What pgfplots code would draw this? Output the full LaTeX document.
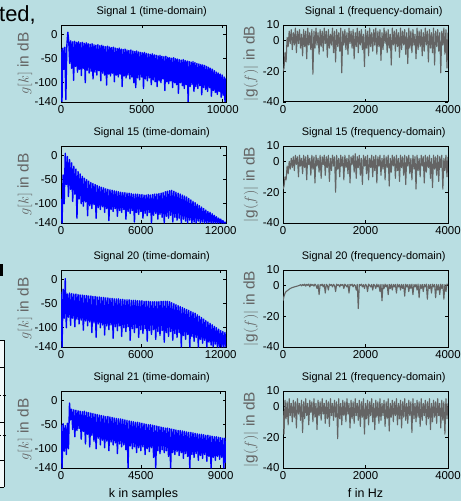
\documentclass[border=0pt]{standalone}
\usepackage{fontspec}
\setmainfont{Liberation Sans}
\usepackage{pgfplots}
\pgfplotsset{compat=1.18}
\usepackage{pgfplotstable}

\definecolor{slidebg}{RGB}{185,222,226}
\definecolor{sigblue}{RGB}{0,0,255}
\definecolor{specgray}{RGB}{100,100,100}
\definecolor{labgray}{RGB}{100,100,100}

% time-domain signals, one value per sample step
\pgfplotstableread[row sep=\\]{y\\
-30\\-140\\-28\\-72\\-26\\-135\\-24\\5\\-14\\-60\\
-13\\-70\\-15\\-95\\-14\\-66\\-16\\-78\\-15\\-72\\
-17\\-85\\-16\\-70\\-18\\-100\\-17\\-74\\-19\\-80\\
-20\\-76\\-19\\-92\\-21\\-78\\-22\\-84\\-21\\-75\\
-23\\-96\\-22\\-80\\-24\\-84\\-25\\-105\\-24\\-82\\
-26\\-86\\-27\\-80\\-26\\-98\\-28\\-84\\-29\\-88\\
-28\\-82\\-30\\-108\\-31\\-86\\-30\\-90\\-32\\-84\\
-33\\-92\\-32\\-88\\-34\\-100\\-35\\-110\\-34\\-90\\
-36\\-94\\-37\\-88\\-38\\-112\\-37\\-92\\-39\\-96\\
-40\\-90\\-41\\-104\\-40\\-94\\-42\\-98\\-43\\-108\\
-44\\-96\\-43\\-100\\-45\\-92\\-46\\-116\\-45\\-98\\
-47\\-102\\-48\\-96\\-49\\-110\\-48\\-100\\-50\\-104\\
-51\\-122\\-52\\-100\\-53\\-106\\-52\\-112\\-54\\-104\\
-55\\-140\\-56\\-108\\-57\\-104\\-56\\-118\\-58\\-108\\
-60\\-112\\-61\\-106\\-62\\-125\\-63\\-110\\-64\\-114\\
-66\\-118\\-68\\-110\\-70\\-128\\-72\\-116\\-75\\-120\\
-78\\-124\\-80\\-118\\-82\\-130\\-84\\-126\\-88\\-140\\
-90\\}\sigOneT

\pgfplotstableread[row sep=\\]{y\\
-90\\-140\\-40\\-100\\5\\-60\\-2\\-85\\-8\\-70\\
-15\\-95\\-22\\-80\\-28\\-130\\-33\\-90\\-38\\-100\\
-43\\-105\\-47\\-96\\-50\\-125\\-53\\-104\\-56\\-110\\
-58\\-102\\-60\\-130\\-62\\-108\\-64\\-112\\-66\\-106\\
-67\\-118\\-69\\-110\\-70\\-135\\-71\\-112\\-72\\-116\\
-73\\-110\\-74\\-126\\-75\\-114\\-76\\-118\\-77\\-112\\
-77\\-132\\-78\\-116\\-78\\-120\\-79\\-114\\-80\\-138\\
-80\\-118\\-80\\-122\\-81\\-116\\-81\\-130\\-82\\-120\\
-82\\-125\\-81\\-118\\-82\\-140\\-81\\-124\\-80\\-120\\
-80\\-132\\-79\\-122\\-78\\-128\\-77\\-140\\-75\\-126\\
-74\\-130\\-73\\-124\\-72\\-138\\-74\\-128\\-76\\-134\\
-78\\-130\\-80\\-140\\-82\\-132\\-84\\-136\\-86\\-140\\
-89\\-134\\-92\\-140\\-95\\-138\\-98\\-140\\-101\\-136\\
-104\\-140\\-107\\-138\\-110\\-140\\-113\\-140\\-116\\-139\\
-118\\-140\\-121\\-140\\-124\\-140\\-127\\-140\\-130\\-140\\
-132\\-140\\-135\\-140\\-138\\-140\\}\sigFifteenT

\pgfplotstableread[row sep=\\]{y\\
-25\\-140\\-20\\-80\\2\\-100\\-30\\-78\\-28\\-95\\
-29\\-80\\-30\\-98\\-30\\-82\\-31\\-92\\-32\\-84\\
-32\\-105\\-33\\-86\\-33\\-96\\-34\\-88\\-34\\-110\\
-35\\-90\\-35\\-120\\-36\\-92\\-36\\-100\\-37\\-94\\
-37\\-115\\-38\\-96\\-38\\-104\\-39\\-94\\-39\\-122\\
-40\\-98\\-40\\-106\\-40\\-96\\-41\\-118\\-41\\-100\\
-42\\-108\\-42\\-98\\-42\\-126\\-43\\-102\\-43\\-110\\
-43\\-100\\-44\\-120\\-44\\-104\\-44\\-112\\-45\\-102\\
-45\\-128\\-45\\-106\\-46\\-114\\-46\\-104\\-46\\-124\\
-46\\-108\\-46\\-116\\-45\\-106\\-45\\-130\\-45\\-110\\
-45\\-118\\-46\\-108\\-48\\-126\\-50\\-112\\-52\\-120\\
-54\\-110\\-56\\-140\\-58\\-116\\-60\\-124\\-62\\-114\\
-64\\-140\\-66\\-118\\-68\\-128\\-70\\-120\\-73\\-140\\
-76\\-124\\-79\\-132\\-82\\-126\\-85\\-140\\-88\\-130\\
-91\\-136\\-94\\-140\\-97\\-134\\-100\\-140\\-103\\-140\\
-106\\-140\\-108\\-140\\-110\\-140\\}\sigTwentyT

\pgfplotstableread[row sep=\\]{y\\
-50\\-140\\-48\\-105\\-52\\-112\\-47\\-100\\-5\\-40\\
-18\\-60\\-19\\-75\\-20\\-62\\-21\\-58\\-22\\-80\\
-23\\-64\\-22\\-90\\-24\\-70\\-25\\-96\\-26\\-72\\
-27\\-84\\-28\\-100\\-29\\-78\\-30\\-92\\-31\\-82\\
-32\\-98\\-33\\-84\\-33\\-104\\-34\\-86\\-35\\-92\\
-36\\-88\\-37\\-110\\-38\\-90\\-38\\-96\\-39\\-92\\
-40\\-102\\-41\\-140\\-42\\-94\\-43\\-100\\-44\\-96\\
-45\\-108\\-45\\-98\\-46\\-104\\-47\\-96\\-48\\-112\\
-49\\-100\\-50\\-106\\-50\\-98\\-51\\-118\\-52\\-140\\
-53\\-104\\-54\\-110\\-55\\-102\\-56\\-108\\-57\\-104\\
-57\\-116\\-58\\-140\\-59\\-108\\-60\\-112\\-61\\-106\\
-62\\-114\\-62\\-108\\-63\\-120\\-64\\-110\\-65\\-116\\
-66\\-140\\-66\\-112\\-67\\-118\\-68\\-110\\-69\\-124\\
-70\\-114\\-70\\-120\\-71\\-112\\-72\\-126\\-72\\-116\\
-73\\-140\\-74\\-118\\-75\\-124\\-75\\-116\\-76\\-122\\
-77\\-118\\-78\\-140\\-78\\-130\\}\sigTwentyOneT

% frequency-domain signals, step 25 Hz
\pgfplotstableread[row sep=\\]{y\\
-20\\-18\\-8\\-14\\2\\-4\\6\\-2\\7\\-6\\
5\\-3\\8\\-8\\6\\-2\\7\\-5\\4\\-10\\
7\\-4\\6\\-12\\8\\-3\\5\\-6\\7\\-22\\
6\\-5\\8\\-3\\5\\-9\\7\\-4\\6\\-7\\
8\\-2\\6\\-11\\7\\-5\\4\\-3\\8\\-8\\
6\\-14\\7\\-4\\5\\-7\\8\\-21\\6\\-3\\
7\\-6\\5\\-9\\8\\-2\\6\\-5\\7\\-12\\
5\\-4\\8\\-8\\6\\-3\\7\\-6\\4\\-17\\
7\\-5\\6\\-10\\8\\-4\\5\\-7\\7\\-3\\
8\\-9\\6\\-4\\7\\-13\\5\\-6\\8\\-2\\
6\\-8\\7\\-5\\4\\-16\\8\\-3\\6\\-7\\
7\\-4\\5\\-11\\8\\-6\\6\\-3\\7\\-9\\
5\\-15\\8\\-5\\6\\-8\\7\\-3\\4\\-12\\
8\\-6\\6\\-4\\7\\-10\\5\\-7\\8\\-3\\
6\\-14\\7\\-5\\5\\-8\\8\\-16\\6\\-4\\
7\\-7\\5\\-21\\6\\-3\\8\\-9\\7\\-18\\
5\\}\sigOneF

\pgfplotstableread[row sep=\\]{y\\
-18\\-16\\-10\\-12\\-3\\-8\\0\\-5\\2\\-4\\
3\\-6\\4\\-2\\3\\-10\\4\\-3\\2\\-8\\
4\\-4\\3\\-12\\4\\-2\\2\\-9\\4\\-5\\
3\\-14\\4\\-3\\2\\-7\\4\\-11\\3\\-2\\
4\\-9\\3\\-4\\4\\-13\\2\\-6\\4\\-3\\
3\\-20\\4\\-5\\2\\-10\\4\\-3\\3\\-12\\
4\\-4\\2\\-8\\4\\-14\\3\\-2\\4\\-7\\
5\\-11\\3\\-4\\4\\-9\\2\\-15\\4\\-3\\
3\\-8\\4\\-12\\2\\-4\\4\\-10\\3\\-6\\
4\\-14\\3\\-3\\4\\-9\\2\\-5\\4\\-12\\
3\\-4\\4\\-16\\2\\-7\\4\\-3\\3\\-11\\
4\\-6\\2\\-13\\4\\-4\\3\\-9\\4\\-15\\
3\\-3\\4\\-8\\2\\-12\\4\\-5\\3\\-18\\
4\\-6\\2\\-10\\4\\-3\\3\\-14\\4\\-7\\
3\\-4\\4\\-11\\2\\-17\\4\\-5\\3\\-9\\
4\\-13\\3\\-4\\4\\-18\\2\\-6\\4\\-10\\
3\\}\sigFifteenF

\pgfplotstableread[row sep=\\]{y\\
-10\\-7\\-5\\-4\\-3.5\\-3\\-2.5\\-2\\-1.7\\-1.4\\
-1.2\\-1\\-0.8\\-0.6\\-0.4\\-0.2\\0\\0.5\\-0.3\\0.6\\
0\\0.8\\-0.5\\0.7\\0\\0.9\\-1\\0.8\\0\\0.6\\
-0.5\\0.8\\0\\-2\\0.7\\-6\\0.5\\0\\0.8\\-1\\
0.6\\-5\\0.7\\0\\-3\\0.8\\0\\0.6\\-1\\0.7\\
0\\-4\\0.8\\0\\0.5\\-1\\0.7\\0\\0.6\\-2\\
0.8\\0\\-1\\0.6\\-5\\0.7\\0\\0.8\\-1\\0.5\\
0\\-3\\0.7\\-15\\0.6\\0\\0.8\\-1\\0.5\\-2\\
0.7\\0\\-4\\0.8\\0\\-1\\0.6\\-3\\0.7\\0\\
-2\\0.8\\-1\\0.5\\-4\\0.7\\-10\\0.6\\-2\\0.8\\
-1\\0.5\\-6\\0.7\\-2\\0.8\\-3\\0.6\\-1\\0.7\\
-5\\0.8\\-1\\0.5\\-3\\0.7\\-2\\0.6\\-7\\0.8\\
-1\\0.5\\-4\\0.7\\-2\\0.8\\-6\\0.6\\-1\\0.7\\
-3\\0.8\\-8\\0.5\\-2\\0.7\\-4\\0.6\\-1\\0.8\\
-9\\0.5\\-2\\0.7\\-5\\0.8\\-1\\0.6\\-8\\0.7\\
-3\\0.5\\-6\\0.8\\-2\\0.7\\-9\\0.6\\-4\\0.8\\
0.5\\}\sigTwentyF

\pgfplotstableread[row sep=\\]{y\\
-3\\-18\\4\\-8\\3\\-12\\5\\-6\\2\\-10\\
4\\-7\\3\\-14\\5\\-5\\2\\-9\\4\\-17\\
3\\-8\\5\\-6\\2\\-12\\4\\-4\\3\\-10\\
5\\-7\\2\\-15\\4\\-6\\3\\-9\\5\\-5\\
2\\-11\\4\\-8\\3\\-13\\5\\-6\\2\\-9\\
4\\-7\\3\\-21\\5\\-8\\2\\-12\\4\\-6\\
3\\-10\\5\\-5\\2\\-14\\4\\-8\\3\\-11\\
5\\-6\\2\\-9\\4\\-13\\3\\-7\\5\\-18\\
2\\-8\\4\\-12\\3\\-6\\5\\-10\\2\\-15\\
4\\-7\\3\\-11\\5\\-9\\2\\-6\\4\\-13\\
3\\-8\\5\\-16\\2\\-7\\4\\-10\\3\\-6\\
5\\-12\\2\\-8\\4\\-14\\3\\-7\\5\\-9\\
2\\-11\\4\\-6\\3\\-17\\5\\-8\\2\\-10\\
4\\-7\\3\\-13\\5\\-9\\2\\-6\\4\\-12\\
3\\-8\\5\\-15\\2\\-10\\4\\-7\\3\\-11\\
5\\-6\\2\\-14\\4\\-9\\3\\-18\\5\\-8\\
2\\}\sigTwentyOneF

\pgfplotsset{
  sigaxis/.style={
    scale only axis, width=165bp, height=77bp,
    anchor=north west,
    axis line style={black, line width=1pt},
    tick style={black, line width=0.6pt},
    tick align=inside, major tick length=3bp,
    ticklabel style={font=\fontsize{11.5}{12}\selectfont},
    /pgf/number format/assume math mode=true,
    /pgf/number format/1000 sep={},
    scaled ticks=false,
    title style={font=\fontsize{11}{12}\selectfont, at={(0.55,1)}, anchor=base, yshift=5bp},
    xlabel style={font=\fontsize{12.5}{13}\selectfont, yshift=-2bp},
  },
  timeaxis/.style={sigaxis, xmin=0, ymin=-140, ymax=20,
    ytick={-140,-100,-50,0}, ylabel={$g[k]$ in dB},
    ylabel style={at={(axis description cs:-0.22,0.5)}, rotate=0, anchor=center,
      font=\fontsize{15.5}{16}\selectfont, text=labgray}},
  freqaxis/.style={sigaxis, xmin=0, xmax=4000, xtick={0,2000,4000},
    ymin=-40, ymax=10, ytick={-40,-20,0,10}, ylabel={$|\mathrm{g}(f)|$ in dB},
    ylabel style={at={(axis description cs:-0.195,0.5)}, rotate=0, anchor=center,
      font=\fontsize{15.5}{16}\selectfont, text=labgray}},
  tplot/.style={sigblue, line width=1.4bp, line join=round},
  fplot/.style={specgray, line width=1.1bp, line join=round},
}

\begin{document}
\begin{tikzpicture}
\useasboundingbox (0,0) rectangle (461bp,-501bp);
\fill[slidebg] (0,0) rectangle (461bp,-501bp);
\clip (0,0) rectangle (461bp,-501bp);

% cut-off slide content at the left edge
\node[anchor=base west, inner sep=0pt, font=\fontsize{22}{24}\selectfont] at (-1bp,-21bp) {ted,};
\fill[black] (0,-264bp) rectangle (3bp,-276bp);
\fill[white!80!slidebg] (0,-340bp) rectangle (4bp,-487bp);
\draw[black, line width=0.6pt] (4bp,-340bp) -- (4bp,-487bp);
\foreach \yy in {340,367,422,460,487} \draw[black, line width=0.6pt] (0,-\yy bp) -- (4bp,-\yy bp);
\foreach \yy in {395,435} \draw[black, line width=0.6pt, dotted] (0,-\yy bp) -- (6bp,-\yy bp);

% row 1
\begin{axis}[timeaxis, at={(61bp,-25bp)}, xmax=10200, xtick={0,5000,10000},
  title={Signal 1 (time-domain)}]
\addplot[tplot] table[x expr=\coordindex*60, y=y] {\sigOneT};
\end{axis}
\begin{axis}[freqaxis, at={(283bp,-25bp)}, title={Signal 1 (frequency-domain)}]
\addplot[fplot] table[x expr=\coordindex*25, y=y] {\sigOneF};
\end{axis}

% row 2
\begin{axis}[timeaxis, at={(61bp,-146bp)}, xmax=12400, xtick={0,6000,12000},
  title={Signal 15 (time-domain)}]
\addplot[tplot] table[x expr=\coordindex*80, y=y] {\sigFifteenT};
\end{axis}
\begin{axis}[freqaxis, at={(283bp,-146bp)}, title={Signal 15 (frequency-domain)}]
\addplot[fplot] table[x expr=\coordindex*25, y=y] {\sigFifteenF};
\end{axis}

% row 3
\begin{axis}[timeaxis, at={(61bp,-270bp)}, xmax=12400, xtick={0,6000,12000},
  title={Signal 20 (time-domain)}]
\addplot[tplot] table[x expr=\coordindex*80, y=y] {\sigTwentyT};
\end{axis}
\begin{axis}[freqaxis, at={(283bp,-270bp)}, title={Signal 20 (frequency-domain)}]
\addplot[fplot] table[x expr=\coordindex*25, y=y] {\sigTwentyF};
\end{axis}

% row 4
\begin{axis}[timeaxis, at={(61bp,-391bp)}, xmax=9300, xtick={0,4500,9000},
  title={Signal 21 (time-domain)}, xlabel={k in samples}]
\addplot[tplot] table[x expr=\coordindex*60, y=y] {\sigTwentyOneT};
\end{axis}
\begin{axis}[freqaxis, at={(283bp,-391bp)}, title={Signal 21 (frequency-domain)}, xlabel={f in Hz}]
\addplot[fplot] table[x expr=\coordindex*25, y=y] {\sigTwentyOneF};
\end{axis}
\end{tikzpicture}
\end{document}
